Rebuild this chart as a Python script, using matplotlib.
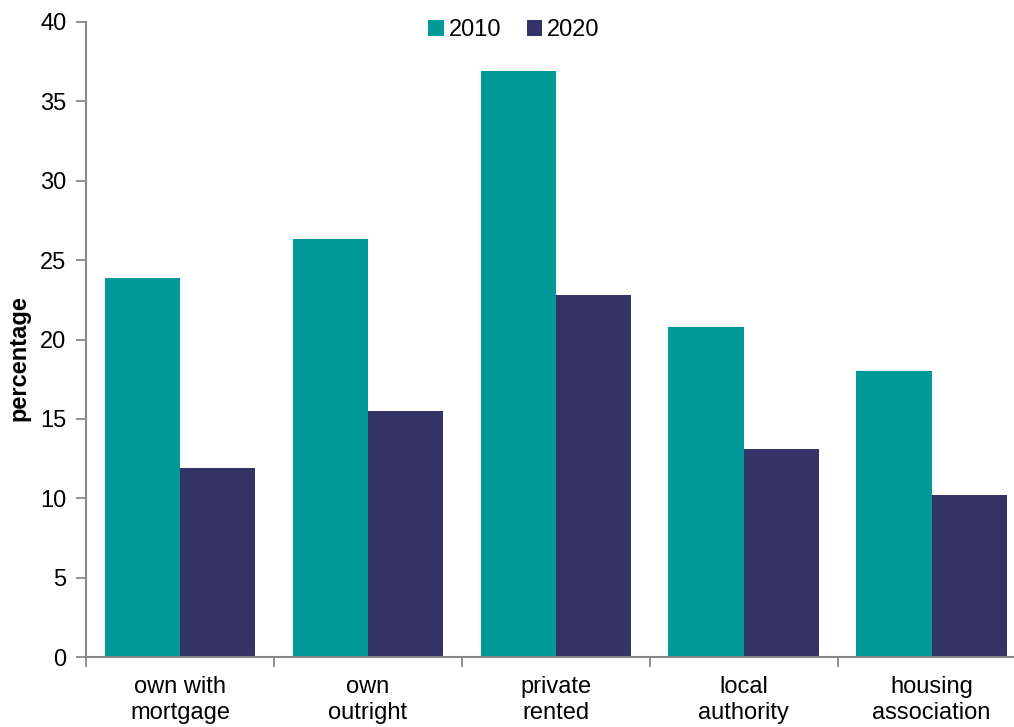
import matplotlib
matplotlib.use("Agg")
import matplotlib.pyplot as plt
import numpy as np

categories = ["own with\nmortgage", "own\noutright", "private\nrented", "local\nauthority", "housing\nassociation"]
series_names = ["2010", "2020"]
values_2010 = [23.9, 26.3, 36.9, 20.8, 18.0]
values_2020 = [11.9, 15.5, 22.8, 13.1, 10.2]
colors = ["#009999", "#333366"]

plt.rcParams['font.family'] = ['Liberation Sans', 'DejaVu Sans']

W, H = 1014, 727
fig = plt.figure(figsize=(W/100, H/100), dpi=100)
x0, x1 = 86, 1025.5
y0, y1 = 657, 22
ax = fig.add_axes([x0/W, (H-y0)/H, (x1-x0)/W, (y0-y1)/H])

x = np.arange(len(categories))
w = 0.4
ax.bar(x - w/2, values_2010, w, color=colors[0], label=series_names[0])
ax.bar(x + w/2, values_2020, w, color=colors[1], label=series_names[1])

ax.set_xlim(-0.5, len(categories) - 0.5)
ax.set_ylim(0, 40)
ax.set_yticks(range(0, 41, 5))
ax.set_xticks(x)
ax.set_xticklabels(categories, fontsize=17, linespacing=1.2)
ax.tick_params(axis='x', which='major', length=0, pad=14)
ax.set_xticks(np.arange(-0.5, len(categories) + 0.5, 1), minor=True)
ax.tick_params(axis='x', which='minor', length=7, width=1.3, color='#888888')
ax.tick_params(axis='y', length=7, width=1.3, color='#888888', labelsize=17, pad=7)

for s in ['top', 'right']:
    ax.spines[s].set_visible(False)
for s in ['left', 'bottom']:
    ax.spines[s].set_color('#888888')
    ax.spines[s].set_linewidth(1.5)

ax.set_ylabel("percentage", fontsize=17, fontweight='bold')
ax.yaxis.set_label_coords(-0.059, 0.47)

leg = fig.legend(loc='center', bbox_to_anchor=(514/W, 1 - 30/H), ncol=2, frameon=False,
                 fontsize=17, handlelength=0.65, handleheight=0.65, handletextpad=0.2,
                 columnspacing=1.1)

fig.savefig("out.png", dpi=100)
